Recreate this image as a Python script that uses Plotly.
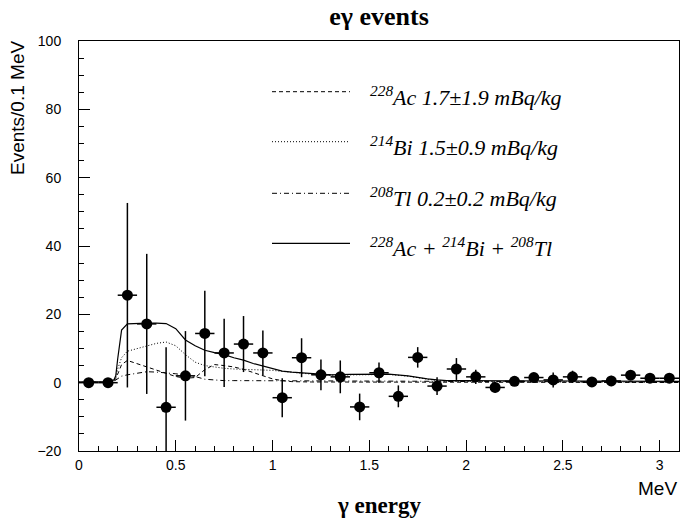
import plotly.graph_objects as go

# ---- measured data points (bin centres, counts, errors) ----
bin_centers = [0.05, 0.15, 0.25, 0.35, 0.45, 0.55, 0.65, 0.75, 0.85, 0.95,
               1.05, 1.15, 1.25, 1.35, 1.45, 1.55, 1.65, 1.75, 1.85, 1.95,
               2.05, 2.15, 2.25, 2.35, 2.45, 2.55, 2.65, 2.75, 2.85, 2.95, 3.05]
counts = [0.0, 0.0, 25.6, 17.2, -7.2, 2.0, 14.4, 8.7, 11.3, 8.7,
          -4.4, 7.3, 2.3, 1.7, -7.1, 2.9, -4.0, 7.4, -1.0, 4.0,
          1.7, -1.4, 0.4, 1.5, 0.8, 1.7, 0.2, 0.5, 2.2, 1.3, 1.3]
count_errors = [0.0, 0.0, 27.0, 20.5, 17.6, 13.1, 12.5, 10.0, 8.2, 6.6,
                5.7, 5.7, 4.5, 4.8, 3.9, 3.0, 3.2, 3.0, 2.6, 3.2,
                2.1, 1.5, 1.0, 1.0, 2.2, 1.8, 1.0, 1.5, 1.0, 1.0, 1.0]
bin_half_width = [0.05] * len(bin_centers)

# ---- model curves ----
curve_energy = [0.0, 0.05, 0.1, 0.15, 0.18, 0.19, 0.2, 0.21, 0.22, 0.25,
                0.3, 0.35, 0.4, 0.45, 0.5, 0.55, 0.6, 0.65, 0.7, 0.75,
                0.8, 0.85, 0.9, 0.95, 1.0, 1.05, 1.1, 1.2, 1.3, 1.4,
                1.5, 1.6, 1.7, 1.75, 1.8, 1.85, 1.9, 2.0, 2.2, 2.4,
                2.6, 2.8, 3.0, 3.1]
ac228 = [0.1, 0.1, 0.1, 0.15, 0.5, 1.2, 2.5, 4.0, 5.3, 6.5,
         5.6, 4.6, 3.6, 2.7, 1.8, 1.3, 1.5, 3.8, 5.3, 5.0,
         4.6, 3.9, 3.0, 2.0, 1.1, 0.6, 0.3, 0.2, 0.2, 0.2,
         0.2, 0.2, 0.15, 0.1, 0.1, 0.1, 0.1, 0.1, 0.05, 0.05,
         0.05, 0.05, 0.05, 0.05]
bi214 = [0.1, 0.1, 0.1, 0.15, 0.5, 1.5, 4.0, 5.8, 7.3, 9.2,
         10.0, 10.7, 11.5, 11.9, 10.8, 8.2, 6.0, 5.0, 4.5, 4.2,
         4.0, 3.9, 3.9, 3.8, 3.6, 3.3, 3.0, 2.5, 2.2, 2.3,
         2.4, 2.4, 1.9, 1.4, 1.0, 0.6, 0.4, 0.3, 0.3, 0.25,
         0.2, 0.2, 0.15, 0.15]
tl208 = [0.1, 0.1, 0.1, 0.15, 0.4, 0.8, 1.3, 1.7, 1.9, 2.3,
         2.8, 3.2, 3.1, 2.9, 2.6, 2.2, 1.8, 1.0, 0.7, 0.6,
         0.6, 0.6, 0.6, 0.6, 0.6, 0.6, 0.6, 0.6, 0.6, 0.55,
         0.5, 0.5, 0.45, 0.45, 0.4, 0.4, 0.35, 0.3, 0.3, 0.3,
         0.25, 0.25, 0.2, 0.2]
total = [0.2, 0.2, 0.2, 0.3, 0.8, 2.0, 7.0, 12.0, 15.4, 17.2,
         17.4, 17.4, 17.4, 17.3, 15.8, 12.5, 10.8, 9.5, 8.8, 8.2,
         7.3, 6.6, 5.6, 4.8, 4.0, 3.4, 3.1, 2.6, 2.3, 2.4,
         2.5, 2.5, 2.0, 1.5, 1.1, 0.8, 0.6, 0.6, 0.6, 0.5,
         0.5, 0.4, 0.4, 0.4]

legend_labels = [
    "<i><sup>228</sup>Ac 1.7±1.9 mBq/kg</i>",
    "<i><sup>214</sup>Bi 1.5±0.9 mBq/kg</i>",
    "<i><sup>208</sup>Tl 0.2±0.2 mBq/kg</i>",
    "<i><sup>228</sup>Ac + <sup>214</sup>Bi + <sup>208</sup>Tl</i>",
]
legend_dashes = ["4px,3px", "1px,2px", "5px,3px,1px,3px", "solid"]
curve_series = [ac228, bi214, tl208, total]
curve_widths = [1, 1, 1, 1.2]

title_text = "<b>eγ events</b>"
x_title = "<b>γ energy</b>"
x_unit = "MeV"
y_title = "Events/0.1 MeV"

fig = go.Figure()

for ys, dash, w in zip(curve_series, legend_dashes, curve_widths):
    fig.add_trace(go.Scatter(
        x=curve_energy, y=ys, mode="lines",
        line=dict(color="black", width=w, dash=dash),
        showlegend=False, hoverinfo="skip"))

fig.add_trace(go.Scatter(
    x=bin_centers, y=counts, mode="markers",
    marker=dict(color="black", size=11, symbol="circle"),
    error_x=dict(type="data", array=bin_half_width, visible=True,
                 color="black", thickness=1.5, width=0),
    error_y=dict(type="data", array=count_errors, visible=True,
                 color="black", thickness=1.5, width=0),
    showlegend=False))

# legend (drawn manually, ROOT style)
leg_y_px = [91.7, 141.7, 193.3, 243.3]
top_px, bottom_px, left_px, right_px = 41, 451, 79, 679
plot_h = bottom_px - top_px
plot_w = right_px - left_px
for lab, dash, w, ypx in zip(legend_labels, legend_dashes, curve_widths, leg_y_px):
    yp = (bottom_px - ypx) / plot_h
    fig.add_shape(type="line", xref="paper", yref="paper",
                  x0=(272 - left_px) / plot_w, x1=(350 - left_px) / plot_w,
                  y0=yp, y1=yp,
                  line=dict(color="black", width=w, dash=dash))
    fig.add_annotation(xref="paper", yref="paper",
                       x=(368 - left_px) / plot_w, y=(bottom_px - ypx - 4) / plot_h,
                       xanchor="left", yanchor="middle", showarrow=False,
                       text=lab,
                       font=dict(family="Liberation Serif", size=22, color="black"))

fig.add_annotation(xref="paper", yref="paper", x=1.0, y=(bottom_px - 488) / plot_h,
                   xanchor="right", yanchor="middle", showarrow=False,
                   text=x_unit,
                   font=dict(family="Liberation Sans", size=19, color="black"))
fig.add_annotation(xref="paper", yref="paper", x=0.5, y=(bottom_px - 505) / plot_h,
                   xanchor="center", yanchor="middle", showarrow=False,
                   text=x_title,
                   font=dict(family="Liberation Serif", size=23, color="black"))
fig.add_annotation(xref="paper", yref="paper", x=(17 - left_px) / plot_w,
                   y=(bottom_px - 108) / plot_h,
                   xanchor="center", yanchor="middle", showarrow=False,
                   textangle=-90, text=y_title,
                   font=dict(family="Liberation Sans", size=19, color="black"))

axis_common = dict(
    showgrid=False, zeroline=False, showline=True, linecolor="black",
    linewidth=1, mirror=True, ticks="inside", tickcolor="black",
    ticklen=11, tickwidth=1,
    tickfont=dict(family="Liberation Sans", size=14, color="black"),
)
fig.update_xaxes(range=[0, 3.1], tick0=0, dtick=0.5,
                 minor=dict(dtick=0.1, ticks="inside", ticklen=5,
                            tickcolor="black", tickwidth=1, showgrid=False),
                 ticklabelstandoff=1, **axis_common)
fig.update_yaxes(range=[-20, 100], tick0=0, dtick=20,
                 minor=dict(dtick=5, ticks="inside", ticklen=5,
                            tickcolor="black", tickwidth=1, showgrid=False),
                 ticklabelstandoff=14, **axis_common)

fig.update_layout(
    width=680, height=519,
    margin=dict(l=left_px, r=680 - right_px, t=top_px, b=519 - bottom_px),
    paper_bgcolor="white", plot_bgcolor="white",
    title=dict(text=title_text, x=(379) / 680, xanchor="center",
               y=1 - 16 / 519, yanchor="middle",
               font=dict(family="Liberation Serif", size=26, color="black")),
)

fig.write_html("out.html")
